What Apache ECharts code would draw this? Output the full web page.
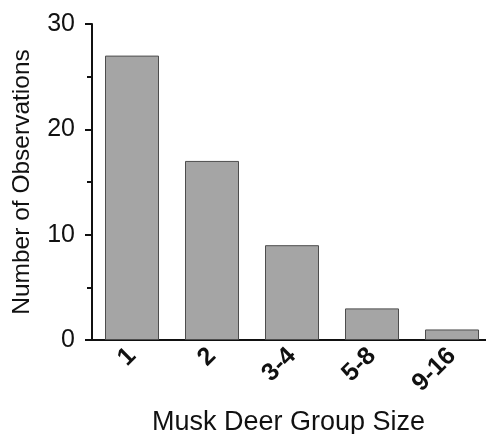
<!DOCTYPE html>
<html>
<head>
<meta charset="utf-8">
<script src="https://cdn.jsdelivr.net/npm/echarts@6/dist/echarts.min.js"></script>
<style>html,body{margin:0;padding:0;background:#fff}#c{width:486px;height:434px}</style>
</head>
<body>
<div id="c"></div>
<script>
const categories = ['1', '2', '3-4', '5-8', '9-16'];
const observations = [27, 17, 9, 3, 1];
const yTicks = [0, 10, 20, 30];

const chart = echarts.init(document.getElementById('c'), null, {renderer: 'canvas'});
chart.setOption({
  animation: false,
  backgroundColor: '#fff',
  textStyle: {fontFamily: 'Liberation Sans, Arial, sans-serif'},
  grid: {left: 92, top: 24, bottom: 94, width: 400, containLabel: false, outerBoundsMode: 'none'},
  xAxis: {
    type: 'category',
    data: categories,
    name: 'Musk Deer Group Size',
    nameLocation: 'middle',
    nameGap: 69,
    nameTextStyle: {fontSize: 27, color: '#111', padding: [0, 7, 0, 0]},
    axisLine: {lineStyle: {color: '#111', width: 2}},
    axisTick: {show: false},
    axisLabel: {rotate: 45, margin: 12, fontSize: 25, fontWeight: 'bold', color: '#111'}
  },
  yAxis: {
    type: 'value',
    min: yTicks[0],
    max: yTicks[yTicks.length - 1],
    interval: 10,
    name: 'Number of Observations',
    nameLocation: 'middle',
    nameGap: 57,
    nameTextStyle: {fontSize: 24.5, color: '#111'},
    axisLine: {show: true, lineStyle: {color: '#111', width: 2}},
    axisTick: {show: true, length: 7, lineStyle: {color: '#111', width: 2}},
    minorTick: {show: true, splitNumber: 2, length: 5, lineStyle: {color: '#111', width: 2}},
    splitLine: {show: false},
    axisLabel: {margin: 17, fontSize: 25, color: '#111'}
  },
  series: [{
    type: 'bar',
    data: observations,
    barWidth: '67.5%',
    itemStyle: {color: '#a5a5a5', borderColor: '#4d4d4d', borderWidth: 1}
  }]
});
</script>
</body>
</html>
